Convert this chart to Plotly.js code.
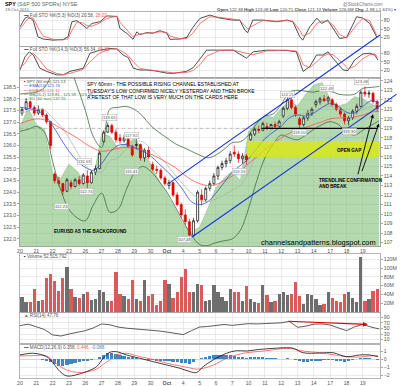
<!DOCTYPE html>
<html><head><meta charset="utf-8">
<script src="https://cdn.plot.ly/plotly-3.0.1.min.js"></script>
<style>html,body{margin:0;padding:0;background:#fff}#c{width:400px;height:386px}</style>
</head><body><div id="c"></div>
<script>
// ---------- DATA ----------
const dayLabels = ['20','21','22','23','26','27','28','29','30','<b>Oct</b>','4','5','6','7','10','11','12','13','14','17','18','19'];
// SPY bars (4 per trading day)
const spyOpen = [120.6,121.0,121.8,121.2, 120.6,121.0,120.4,119.7, 114.2,113.5,113.2,112.4, 113.3,112.9,113.6,113.2,
 114.0,113.3,114.4,114.8, 117.6,118.6,119.3,118.6, 118.0,117.7,118.0,117.1, 117.2,117.3,115.9,116.7,
 115.2,114.7,114.6,113.8, 113.0,113.3,112.0,111.0, 109.9,109.2,107.8,109.3, 112.0,111.5,112.7,113.2,
 114.0,114.9,115.3,115.6, 116.5,116.3,115.8,116.1, 117.8,118.4,118.9,118.8, 119.2,119.0,119.4,119.2,
 120.3,121.1,122.0,121.2, 120.0,119.4,120.1,120.6, 121.5,121.8,122.1,121.9, 122.0,121.5,121.0,120.5,
 119.8,120.1,120.8,121.3, 122.8,122.6,122.7,121.8];
const spyHigh = [121.2,122.0,121.9,121.4, 121.4,121.1,120.6,119.8, 114.4,113.9,113.3,113.8, 113.6,113.8,114.0,114.3,
 114.6,114.6,115.1,116.6, 118.8,119.6,119.5,118.9, 118.4,118.3,118.1,117.3, 117.9,117.4,116.9,117.1,
 115.5,115.1,114.8,114.0, 113.6,113.4,112.3,111.2, 110.5,109.5,109.6,112.5, 112.6,112.9,113.5,114.3,
 115.1,115.6,115.9,116.6, 117.2,116.6,116.4,116.3, 118.6,119.1,119.3,119.7, 119.6,119.5,119.7,119.9,
 121.3,122.3,122.2,121.4, 120.2,120.3,120.9,121.2, 122.0,122.3,122.5,122.4, 122.2,121.7,121.2,120.7,
 120.3,121.0,121.6,123.0, 123.4,123.0,122.8,122.0];
const spyLow = [120.3,120.9,121.0,120.3, 120.4,120.2,119.5,116.8, 113.2,112.9,112.0,112.3, 112.6,112.8,113.0,113.1,
 112.7,113.2,114.1,114.7, 117.5,118.5,118.4,117.5, 117.4,117.5,116.9,116.0, 116.8,115.6,115.5,115.8,
 114.5,114.2,113.6,113.0, 112.6,111.8,110.8,109.6, 108.8,107.4,107.6,109.1, 110.9,111.3,112.4,113.0,
 113.6,114.6,114.9,115.3, 116.0,115.4,115.3,115.2, 117.7,118.2,118.5,118.7, 118.8,118.9,119.0,119.1,
 120.1,120.9,121.0,120.2, 119.0,119.2,119.8,120.3, 121.2,121.5,121.8,121.6, 121.3,120.8,120.2,119.4,
 119.3,119.9,120.5,121.2, 122.3,122.2,121.6,120.7];
const spyClose = [121.0,121.8,121.2,120.6, 121.0,120.4,119.7,117.2, 113.5,113.2,112.4,113.6, 112.9,113.6,113.2,114.1,
 113.3,114.4,114.8,116.4, 118.6,119.3,118.6,117.8, 117.7,118.0,117.1,116.2, 117.3,115.9,116.7,116.0,
 114.7,114.6,113.8,113.2, 113.3,112.0,111.0,109.9, 109.2,107.8,109.3,112.3, 111.5,112.7,113.2,114.0,
 114.9,115.3,115.6,116.3, 116.3,115.8,116.1,115.7, 118.4,118.9,118.8,119.5, 119.0,119.4,119.2,119.7,
 121.1,122.0,121.2,120.5, 119.4,120.1,120.6,121.0, 121.8,122.1,121.9,122.2, 121.5,121.0,120.5,119.8,
 120.1,120.8,121.3,122.8, 122.6,122.7,121.8,121.1];
// volume, millions
const volume = [34,22,23,52, 24,27,78,87, 71,47,78,102, 52,35,31,42, 46,28,29,50, 45,25,25,91, 41,37,29,73,
 29,25,73,37, 41,16,25,73, 64,33,46,79, 98,46,45,64, 61,25,28,61, 45,35,25,52, 45,45,25,60,
 29,22,20,61, 39,22,25,41, 46,38,41,69, 37,18,41,39, 29,16,18,45, 33,25,22,41, 45,32,22,125, 25,29,48,52];
// indicators sampled every half day
const ema13 = [121.2,121.1,120.9,120.4,119.3,117.9,116.6,115.6,114.9,114.6,115.3,116.5,117.2,117.3,117.0,116.6,116.1,115.3,114.5,113.6,112.5,111.3,111.0,111.3,112.2,113.3,114.4,115.1,115.8,116.9,117.9,118.6,119.2,120.1,120.4,120.3,120.6,121.2,121.6,121.3,120.7,120.6,121.3,121.9,121.7];
const ema34 = [119.5,119.8,120.0,119.9,119.5,119.0,118.5,118.0,117.4,116.9,116.6,116.7,116.9,117.0,116.9,116.7,116.3,115.9,115.4,114.9,114.2,113.6,113.2,113.0,113.1,113.5,114.0,114.6,115.3,116.0,116.8,117.4,118.0,118.5,118.9,119.1,119.4,119.7,120.0,120.1,120.1,120.2,120.4,120.7,120.8];
const bbUpper = [122.6,122.7,122.8,123.3,124.8,126.0,125.5,123.4,120.9,118.1,117.0,121.0,121.2,121.3,121.0,120.3,119.3,118.6,118.0,117.4,117.0,116.6,116.2,115.9,116.2,116.8,117.5,117.6,118.3,119.5,120.3,120.5,121.5,122.8,123.0,122.9,122.8,123.0,122.9,122.6,122.5,122.6,123.2,123.3,123.4];
const bbMid = [120.6,120.8,121.0,120.9,120.1,119.2,118.0,116.5,115.1,114.5,114.4,115.6,115.9,116.9,117.6,117.6,116.9,116.1,115.2,114.1,113.1,112.2,111.5,111.3,111.6,112.0,112.5,113.0,114.4,116.5,118.1,118.9,119.4,120.4,120.4,120.6,120.8,121.2,121.3,121.0,120.6,120.5,121.0,121.3,121.6];
const bbLower = [118.7,118.9,119.2,118.6,115.5,112.5,110.5,109.6,109.3,111.0,112.2,110.2,110.5,112.5,114.3,115.0,114.5,113.5,112.3,110.8,109.2,107.8,106.8,106.7,107.0,107.2,107.4,108.3,110.6,113.5,115.9,117.3,118.3,118.0,117.8,118.3,118.9,119.4,119.7,119.4,118.6,118.3,118.8,119.3,119.8];
const eurusd = [136.8,137.6,136.9,136.7,134.8,134.6,135.2,134.9,134.4,134.6,136.5,136.4,135.9,136.1,136.3,135.9,135.2,134.5,133.9,133.3,132.6,132.3,132.5,133.3,134.2,134.6,134.9,134.5,136.6,137.0,137.3,137.2,137.6,137.9,137.7,138.2,138.6,138.7,138.0,137.7,137.8,138.1,138.0,137.8,137.6];
const rsi14 = [60,65,56,46,27,23,30,36,42,52,66,63,55,51,49,46,43,41,37,32,28,42,55,57,60,64,61,63,67,66,68,68,70,75,54,58,65,66,62,52,42,56,64,55,48];
// stochastics (time in trading days)
const sto1Time = [0,0.31,0.49,0.80,1.10,1.41,2.02,2.63,2.94,3.18,3.49,3.86,4.10,4.41,4.90,5.32,5.94,6.12,6.55,6.92,7.16,7.34,7.77,8.14,8.57,9.00,9.18,9.79,10.22,10.59,11.02,11.63,12.24,13.04,13.46,13.77,13.95,14.26,14.87,15.73,16.34,16.71,17.14,17.32,17.75,18.18,18.48,18.85,19.16,19.58,20.01,20.62,21.00,21.42,21.85];
const sto1K = [58,89,94,82,22,14,10,12,22,76,80,64,52,70,76,97,95,52,34,13,40,30,37,35,44,35,13,14,20,56,88,100,89,82,82,46,37,82,82,76,82,76,22,10,58,89,70,82,52,16,20,94,89,70,21];
const sto1D = [50,75,88,90,55,25,13,11,15,45,75,72,62,60,72,88,96,75,45,22,28,32,35,36,40,38,25,15,16,35,70,94,92,84,82,62,50,62,80,78,80,78,45,25,35,70,78,78,65,30,18,65,88,80,28];
const sto2Time = [0,0.31,0.57,0.82,1.22,1.63,2.24,2.65,3.06,3.47,3.88,4.28,4.90,5.51,5.92,6.32,6.63,6.94,7.34,7.75,8.16,8.98,9.38,10.20,10.61,11.02,11.43,12.24,13.06,13.87,14.28,15.10,16.32,16.93,17.14,17.34,17.75,18.16,18.56,18.87,19.17,19.79,20.09,20.50,21.01,21.42,21.73,21.93];
const sto2K = [22,68,85,74,28,17,5,5,17,22,28,80,91,97,95,74,65,28,22,22,20,11,10,17,30,60,91,91,91,63,85,91,90,85,46,17,34,74,74,85,63,22,20,57,78,80,74,56];
const sto2D = [30,45,70,80,55,25,10,6,10,18,24,50,82,94,96,85,72,50,28,23,21,15,12,13,20,40,70,90,91,80,75,88,91,88,70,40,30,50,70,78,75,45,25,35,62,75,78,65];
// MACD (12,26,9)
const macdTime = [0,0.82,1.63,2.04,2.45,2.86,3.47,4.08,4.69,5.10,5.51,5.92,6.53,7.34,8.16,8.98,9.79,10.40,10.81,11.22,11.83,12.65,13.26,13.87,14.69,15.50,16.32,16.73,17.34,18.36,19.17,19.99,20.81,21.42,21.93];
const macdLine = [0.56,0.77,0.35,-0.47,-1.5,-2.04,-1.9,-1.5,-0.89,0.15,0.89,0.96,0.56,0.15,-0.27,-0.68,-1.09,-1.5,-1.63,-0.89,-0.06,0.77,1.09,1.05,1.26,1.38,1.46,1.4,0.84,0.8,0.84,0.35,0.56,0.56,0.36];
const macdSignal = [0.44,0.48,0.44,-0.2,-0.85,-1.3,-1.6,-1.55,-1.2,-0.6,-0.05,0.56,0.77,0.35,0.0,-0.45,-0.8,-1.05,-1.21,-1.1,-0.7,0.15,0.55,0.84,1.0,1.2,1.38,1.3,1.05,0.84,0.6,0.35,0.3,0.44,0.45];
const macdHist = [0.05,0.1,0.1,0.05, 0.0,-0.05,-0.15,-0.35, -0.6,-0.8,-0.85,-0.7, -0.6,-0.45,-0.35,-0.2, -0.15,-0.05,0.05,0.25,
 0.55,0.75,0.8,0.7, 0.6,0.45,0.35,0.25, 0.15,0.05,0.0,-0.05, -0.1,-0.15,-0.2,-0.25, -0.25,-0.3,-0.35,-0.4,
 -0.45,-0.5,-0.3,0.0, 0.2,0.35,0.45,0.55, 0.6,0.6,0.55,0.5, 0.4,0.3,0.25,0.2, 0.25,0.3,0.3,0.25,
 0.2,0.15,0.15,0.1, 0.1,0.15,0.1,-0.05, -0.2,-0.3,-0.3,-0.25, -0.2,-0.15,-0.1,-0.05, -0.1,-0.2,-0.25,-0.3,
 -0.25,-0.1,0.05,0.15, 0.2,0.15,0.05,-0.09];
// drawn levels (time in trading days, price in $)
const upperChannel = [[9.18,113.3],[22.05,128.8]];
const lowerChannel = [[10.1,107.07],[23.07,122.6]];
const gapZone = {t0:13.95, low:116.0, high:117.67};
const supportLine = {t0:14.8, t1:21.9, price:119.0};

// ---------- BUILD ----------
const BPD = 4;
const barT = spyClose.map((_, i) => i / BPD + 0.5 / BPD);
const halfT = ema13.map((_, i) => i / 2);
const tickT = dayLabels.map((_, i) => i);
const XR = [0, 22.05];
const FONT = 'Liberation Sans, Arial, sans-serif';
const dom = {s1:[0.9071,1.0], s2:[0.8197,0.9044], main:[0.3607,0.8197], vol:[0.1803,0.3388], rsi:[0.0956,0.1776], macd:[0,0.0902]};
const spyRange = [106.65, 124.29];

const up = spyClose.map((c, i) => c >= spyOpen[i]);
const traces = [];
// stoch 1
traces.push({x:sto1Time, y:sto1K, xaxis:'x', yaxis:'y', mode:'lines', line:{color:'#222', width:0.8}, hoverinfo:'skip'});
traces.push({x:sto1Time, y:sto1D, xaxis:'x', yaxis:'y', mode:'lines', line:{color:'#ff5555', width:0.8}, hoverinfo:'skip'});
// stoch 2
traces.push({x:sto2Time, y:sto2K, xaxis:'x', yaxis:'y2', mode:'lines', line:{color:'#222', width:0.8}, hoverinfo:'skip'});
traces.push({x:sto2Time, y:sto2D, xaxis:'x', yaxis:'y2', mode:'lines', line:{color:'#ff5555', width:0.8}, hoverinfo:'skip'});
// EURUSD background
traces.push({x:halfT, y:eurusd, xaxis:'x', yaxis:'y3', mode:'lines', fill:'tozeroy', fillcolor:'rgba(120,185,110,0.55)', line:{color:'#8cbf84', width:0.6}, hoverinfo:'skip'});
// indicators on SPY
traces.push({x:halfT, y:bbUpper, xaxis:'x', yaxis:'y7', mode:'lines', line:{color:'#3d6b3d', width:0.8, shape:'spline'}, hoverinfo:'skip'});
traces.push({x:halfT, y:bbLower, xaxis:'x', yaxis:'y7', mode:'lines', line:{color:'#3d6b3d', width:0.8, shape:'spline'}, hoverinfo:'skip'});
traces.push({x:halfT, y:bbMid, xaxis:'x', yaxis:'y7', mode:'lines', line:{color:'#a3b5a3', width:0.7, shape:'spline'}, hoverinfo:'skip'});
traces.push({x:halfT, y:ema34, xaxis:'x', yaxis:'y7', mode:'lines', line:{color:'#ff5050', width:0.8, shape:'spline'}, hoverinfo:'skip'});
traces.push({x:halfT, y:ema13, xaxis:'x', yaxis:'y7', mode:'lines', line:{color:'#3050d0', width:0.8, shape:'spline'}, hoverinfo:'skip'});
traces.push({type:'candlestick', x:barT, open:spyOpen, high:spyHigh, low:spyLow, close:spyClose, xaxis:'x', yaxis:'y7',
  increasing:{line:{color:'#111', width:0.7}, fillcolor:'#ffffff'}, decreasing:{line:{color:'#e00000', width:0.7}, fillcolor:'#e00000'},
  whiskerwidth:0, hoverinfo:'skip'});
// volume
traces.push({type:'bar', x:barT, y:volume.map(v => v * 1e6), xaxis:'x', yaxis:'y4', width:0.2,
  marker:{color:up.map(u => u ? '#6e6e6e' : '#d85a5a'), line:{width:0}}, hoverinfo:'skip'});
// RSI
traces.push({x:halfT, y:rsi14, xaxis:'x', yaxis:'y5', mode:'lines', line:{color:'#333', width:0.8}, hoverinfo:'skip'});
// MACD
traces.push({type:'bar', x:barT, y:macdHist, xaxis:'x2', yaxis:'y6', width:0.2, marker:{color:'#3d86c6', line:{width:0}}, hoverinfo:'skip'});
traces.push({x:macdTime, y:macdSignal, xaxis:'x2', yaxis:'y6', mode:'lines', line:{color:'#ff5555', width:0.8, shape:'spline'}, hoverinfo:'skip'});
traces.push({x:macdTime, y:macdLine, xaxis:'x2', yaxis:'y6', mode:'lines', line:{color:'#111', width:0.8, shape:'spline'}, hoverinfo:'skip'});

const tickFont = {family:FONT, size:5.2, color:'#555'};
function yax(d, range, extra) {
  return Object.assign({domain:d, range:range, side:'right', anchor:'x', showline:true, linecolor:'#a0a0a0', linewidth:0.8, mirror:true,
    showgrid:true, gridcolor:'#dcdcdc', gridwidth:0.6, zeroline:false, ticks:'outside', ticklen:2, tickcolor:'#aaa', tickfont:tickFont, fixedrange:true}, extra || {});
}
const xBase = {range:XR, tickvals:tickT, ticktext:dayLabels, showgrid:true, gridcolor:'#dcdcdc', gridwidth:0.6, zeroline:false,
  showline:true, linecolor:'#a0a0a0', linewidth:0.8, mirror:'all', ticks:'', tickfont:tickFont, fixedrange:true};

// convert main-panel data coordinates to paper (for lines running across panels)
function toPaper(t, price) {
  const px = (t - XR[0]) / (XR[1] - XR[0]);
  const py = dom.main[0] + (price - spyRange[0]) / (spyRange[1] - spyRange[0]) * (dom.main[1] - dom.main[0]);
  return [px, py];
}
function chan(c) {
  const a = toPaper(c[0][0], c[0][1]), b = toPaper(c[1][0], c[1][1]);
  return {type:'line', xref:'paper', yref:'paper', x0:a[0], y0:a[1], x1:b[0], y1:b[1], line:{color:'#1530e8', width:1.1}, layer:'above'};
}

const shapes = [
  {type:'rect', xref:'x', yref:'y7', x0:gapZone.t0, x1:XR[1], y0:gapZone.low, y1:gapZone.high, fillcolor:'rgba(222,234,0,0.72)', line:{width:0}, layer:'above'},
  {type:'line', xref:'x', yref:'y7', x0:XR[0], x1:XR[1], y0:supportLine.price, y1:supportLine.price, line:{color:'#999', width:0.7, dash:'dot'}, layer:'below'},
  {type:'line', xref:'x', yref:'y7', x0:supportLine.t0, x1:supportLine.t1, y0:supportLine.price, y1:supportLine.price, line:{color:'#000', width:1.3}, layer:'above'},
  chan(upperChannel), chan(lowerChannel)
];

const annotations = [];
function pa(x, y, text, o) {
  annotations.push(Object.assign({xref:'paper', yref:'paper', x:x, y:y, text:text, showarrow:false, xanchor:'left', yanchor:'middle',
    font:{family:FONT, size:4.6, color:'#555'}}, o || {}));
}
function da(x, y, text, o) {
  annotations.push(Object.assign({xref:'x', yref:'y7', x:x, y:y, text:text, showarrow:false, xanchor:'left', yanchor:'middle',
    font:{family:FONT, size:5, color:'#000'}}, o || {}));
}
// header
pa(-0.047, 1.0205, '<b style="color:#000">SPY</b> (S&P 500 SPDRs) NYSE', {font:{family:FONT, size:5.4, color:'#666'}});
pa(-0.047, 1.0055, '19-Oct-2011', {font:{family:FONT, size:4.4, color:'#666'}});
pa(1.014, 1.0205, '@StockCharts.com', {xanchor:'right', font:{family:FONT, size:4.6, color:'#777'}});
pa(1.05, 1.0055, '<b>Open</b> 122.38 <b>High</b> 123.08 <b>Low</b> 120.71 <b>Close</b> 121.13 <b>Volume</b> 226.6M <b>Chg</b> -1.98 (-1.61%) ▾',
   {xanchor:'right', font:{family:FONT, size:4.4, color:'#444'}});
// panel legends
pa(0.006, 0.9904, '<b style="color:#000">—</b> Full STO %K(5,3) %D(3) 20.58, <span style="color:#ff5555">28.02</span>');
pa(0.006, 0.8975, '<b style="color:#000">—</b> Full STO %K(14,3) %D(3) 56.34, <span style="color:#ff5555">65.32</span>');
pa(0.006, 0.8096, '<span style="color:#000">▪</span> SPY (60 min) 121.13', {font:{family:FONT, size:4.2, color:'#555'}});
pa(0.006, 0.7981, '<b>—</b> EMA(13) 121.74', {font:{family:FONT, size:4.2, color:'#3050d0'}});
pa(0.006, 0.7866, '<b>—</b> EMA(34) 121.12', {font:{family:FONT, size:4.2, color:'#ff5050'}});
pa(0.006, 0.7751, '<b>—</b> BB(20,2) 119.81 - 121.59 - 123.36', {font:{family:FONT, size:4.2, color:'#3d6b3d'}});
pa(0.006, 0.7637, '▲ EU (60 min) 137.55', {font:{family:FONT, size:4.2, color:'#4a8a40'}});
pa(0.006, 0.3333, '<span style="color:#000">▪</span> Volume 52,515,792');
pa(0.006, 0.1721, '<span style="color:#4a8a40">▲</span> RSI(14) 47.76');
pa(0.006, 0.082, '<b style="color:#000">—</b> MACD(12,26,9) 0.358, <span style="color:#ff5555">0.446</span>, <span style="color:#3d86c6">-0.088</span>');
// commentary
da(3.98, 124.2, "SPY 60min - THE POSSIBLE RISING CHANNEL ESTABLISHED AT<br>TUESDAY'S LOW CONFIRMED NICELY YESTERDAY AND THEN BROKE<br>A RETEST OF THAT LOW IS VERY MUCH ON THE CARDS HERE",
   {yanchor:'top', align:'left', font:{family:FONT, size:5, color:'#000'}});
da(1.96, 108.13, '<b>EURUSD AS THE BACKGROUND</b>', {font:{family:FONT, size:4.6, color:'#000'}});
da(19.28, 116.72, '<b>OPEN GAP</b>', {font:{family:FONT, size:4.6, color:'#000'}});
da(18.18, 113.95, '<b>TRENDLINE CONFIRMATION<br>AND BREAK</b>', {yanchor:'top', align:'left', font:{family:FONT, size:4.6, color:'#000'}});
da(21.95, 107.0, 'channelsandpatterns.blogspot.com', {xanchor:'right', font:{family:FONT, size:7.4, color:'#000'}});
// arrows
da(21.62, 120.48, '', {showarrow:true, ax:-15, ay:60, arrowhead:2, arrowsize:0.8, arrowwidth:0.9, arrowcolor:'#000'});
da(21.99, 119.5, '', {showarrow:true, ax:-17.6, ay:49, arrowhead:2, arrowsize:0.8, arrowwidth:0.9, arrowcolor:'#000'});
annotations.push({xref:'x', yref:'y5', x:21.3, y:64, text:'', showarrow:true, ax:-81, ay:-3.3, arrowhead:2, arrowsize:0.8, arrowwidth:1.2, arrowcolor:'#e00000'});
// price labels
const lbl = {font:{family:FONT, size:4.2, color:'#555'}, bgcolor:'rgba(255,255,255,0.85)', bordercolor:'#aaa', borderwidth:0.5, borderpad:0.5, xanchor:'center'};
[[5.51,120.16,'119.65'],[6.85,118.2,'117.92'],[6.85,114.46,'115.41'],[3.98,115.5,'115.59'],[4.1,112.4,'112.74'],[2.57,110.8,'112.23'],
 [10.1,107.35,'107.43'],[13.46,114.46,'115.15'],[16.4,122.55,'122.21'],[17.14,118.6,'119.10'],[18.79,123.15,'122.49'],[20.2,118.7,'119.30'],[20.93,123.95,'123.08']]
 .forEach(p => da(p[0], p[1], p[2], lbl));

const layout = {
  width:400, height:386, margin:{l:20, r:20, t:12, b:8}, paper_bgcolor:'#fff', plot_bgcolor:'#fff', showlegend:false,
  font:{family:FONT, size:5.2, color:'#555'}, bargap:0,
  xaxis:Object.assign({}, xBase, {anchor:'y3', rangeslider:{visible:false}}),
  xaxis2:Object.assign({}, xBase, {anchor:'y6', matches:'x'}),
  yaxis:yax(dom.s1, [-11,111], {tickvals:[20,50,80]}),
  yaxis2:yax(dom.s2, [-6,102], {tickvals:[20,50,80]}),
  yaxis3:yax(dom.main, [131.7,138.9], {side:'left', dtick:0.5, tickformat:'.1f', showgrid:false}),
  yaxis7:yax(dom.main, spyRange, {overlaying:'y3', dtick:1, showgrid:true, gridcolor:'rgba(200,200,200,0.6)'}),
  yaxis4:yax(dom.vol, [0,132e6], {tickvals:[20e6,40e6,60e6,80e6,100e6,120e6], ticktext:['20M','40M','60M','80M','100M','120M']}),
  yaxis5:yax(dom.rsi, [-2,105], {tickvals:[10,30,50,70,90]}),
  yaxis6:yax(dom.macd, [-2.3,1.8], {anchor:'x2', tickvals:[-2,-1,0,1], zeroline:true, zerolinecolor:'#bbb', zerolinewidth:0.6}),
  shapes:shapes, annotations:annotations
};
Plotly.newPlot('c', traces, layout, {staticPlot:true, displayModeBar:false});
</script></body></html>
